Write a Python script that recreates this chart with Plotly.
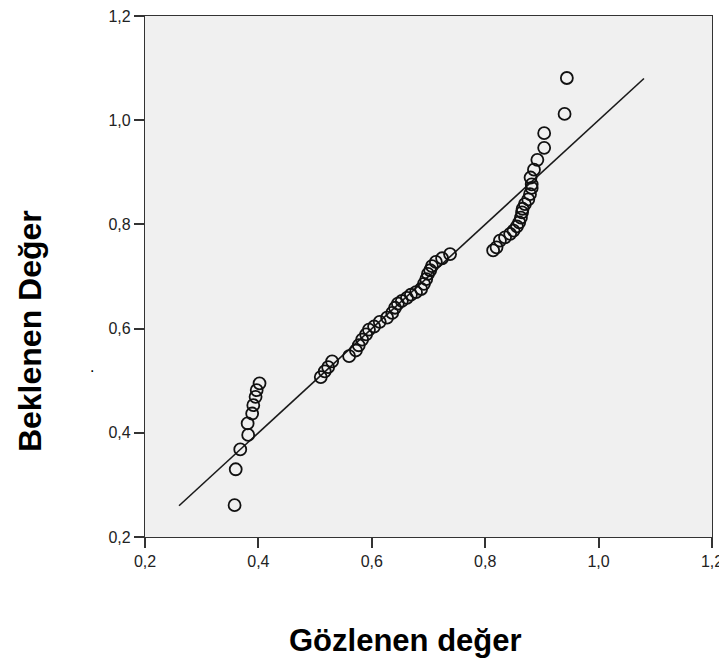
import plotly.graph_objects as go

observed = [
    0.358, 0.360, 0.368, 0.382, 0.381, 0.389, 0.391, 0.395, 0.397, 0.402,
    0.510, 0.517, 0.523, 0.530, 0.560, 0.572, 0.577, 0.583, 0.590, 0.595,
    0.604, 0.614, 0.627, 0.636, 0.641, 0.646, 0.653, 0.662, 0.669, 0.678,
    0.687, 0.692, 0.696, 0.699, 0.703, 0.706, 0.713, 0.724, 0.738,
    0.814, 0.820, 0.826, 0.835, 0.844, 0.850, 0.856, 0.860, 0.863, 0.865,
    0.866, 0.870, 0.876, 0.879, 0.882, 0.882, 0.880, 0.886, 0.892, 0.904,
    0.904, 0.940, 0.944,
]
expected = [
    0.261, 0.330, 0.368, 0.396, 0.418, 0.437, 0.453, 0.469, 0.482, 0.495,
    0.507, 0.518, 0.526, 0.537, 0.547, 0.558, 0.568, 0.579, 0.589, 0.598,
    0.604, 0.613, 0.621, 0.630, 0.640, 0.648, 0.653, 0.659, 0.665, 0.670,
    0.676, 0.686, 0.695, 0.705, 0.712, 0.720, 0.728, 0.735, 0.743,
    0.750, 0.756, 0.769, 0.775, 0.782, 0.788, 0.796, 0.804, 0.813, 0.823,
    0.830, 0.839, 0.848, 0.858, 0.870, 0.877, 0.890, 0.905, 0.924, 0.947,
    0.975, 1.012, 1.081,
]
ref_line = [0.26, 1.08]
tick_vals = [0.2, 0.4, 0.6, 0.8, 1.0, 1.2]

FONT = "Liberation Sans, Arial, sans-serif"

fig = go.Figure()
fig.add_trace(go.Scatter(x=ref_line, y=ref_line, mode="lines",
                         line=dict(color="#1a1a1a", width=1.6),
                         hoverinfo="skip", showlegend=False))
fig.add_trace(go.Scatter(x=observed, y=expected, mode="markers",
                         marker=dict(symbol="circle-open", size=12,
                                     color="#111111", line=dict(width=1.8)),
                         showlegend=False))

axis_common = dict(range=[0.2, 1.2], tickvals=tick_vals, tickformat=".1f",
                   showgrid=False, zeroline=False, showline=True,
                   linecolor="#333333", linewidth=1.3, mirror=True,
                   ticks="outside", ticklen=10, tickwidth=1.6, tickcolor="#333333",
                   automargin=False, ticklabeloverflow="allow",
                   tickfont=dict(family=FONT, size=16, color="#222222"))

# page body has an 8px default margin, so the figure is sized to fit inside it
fig.update_layout(
    width=719, height=658,
    margin=dict(l=137, r=15, t=8, b=129, autoexpand=False),
    plot_bgcolor="#f0f0f0", paper_bgcolor="white",
    separators=",.",
    xaxis=axis_common,
    yaxis=axis_common,
    annotations=[
        dict(text="<b>Gözlenen değer</b>", xref="paper", yref="paper",
             x=0.459, y=-0.199, xanchor="center", yanchor="middle",
             showarrow=False, font=dict(family=FONT, size=31, color="black")),
        dict(text="<b>Beklenen Değer</b>", xref="paper", yref="paper",
             x=-0.203, y=0.395, xanchor="center", yanchor="middle",
             textangle=-90, showarrow=False,
             font=dict(family=FONT, size=32, color="black")),
        dict(text=".", xref="paper", yref="paper", x=-0.0935, y=0.327,
             xanchor="center", yanchor="middle", showarrow=False,
             font=dict(family=FONT, size=16, color="black")),
    ],
)

fig.write_html("out.html")
